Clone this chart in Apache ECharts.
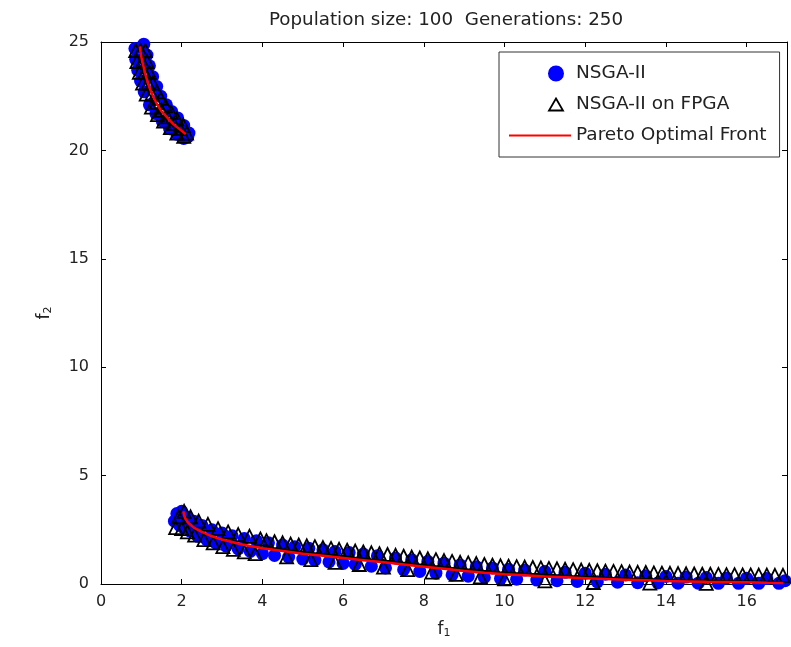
<!DOCTYPE html>
<html>
<head>
<meta charset="utf-8">
<script src="https://cdn.jsdelivr.net/npm/echarts@6/dist/echarts.min.js"></script>
<style>html,body{margin:0;padding:0;background:#fff;}#c{width:791px;height:647px;}</style>
</head>
<body>
<div id="c"></div>
<script>
const titleText = 'Population size: 100  Generations: 250';
const seriesNames = ['NSGA-II', 'NSGA-II on FPGA', 'Pareto Optimal Front'];
const xRange = [0, 17, 2];
const yRange = [0, 25, 5];

const nsga2Upper = [[0.84,24.7],[1.06,24.9],[0.86,24.2],[1.14,24.4],[0.91,23.7],[1.2,23.9],[0.98,23.2],[1.28,23.4],[1.07,22.7],[1.38,22.95],[1.2,22.1],[1.48,22.5],[1.36,21.7],[1.62,22.1],[1.52,21.35],[1.75,21.8],[1.7,21.0],[1.9,21.5],[1.88,20.75],[2.05,21.15],[2.05,20.55],[2.18,20.8],[2.15,20.62]];
const nsga2Lower = [[1.82,2.9],[1.88,3.25],[1.95,2.7],[2.0,3.35],[2.05,2.6],[2.12,3.1],[2.2,2.45],[2.3,2.9],[2.4,2.2],[2.5,2.7],[2.62,2.05],[2.75,2.5],[2.85,1.88],[3.0,2.35],[3.1,1.75],[3.25,2.22],[3.4,1.62],[3.55,2.1],[3.7,1.5],[3.85,2.0],[4.0,1.4],[4.15,1.9],[4.3,1.32],[4.5,1.8],[4.65,1.24],[4.8,1.72],[5.0,1.15],[5.15,1.65],[5.3,1.1],[5.5,1.58],[5.65,1.02],[5.8,1.5],[6.0,0.95],[6.15,1.45],[6.3,0.9],[6.5,1.38],[6.7,0.82],[6.85,1.3],[7.05,0.74],[7.3,1.2],[7.5,0.66],[7.7,1.12],[7.9,0.58],[8.1,1.04],[8.3,0.5],[8.5,0.96],[8.7,0.42],[8.9,0.88],[9.1,0.36],[9.3,0.8],[9.5,0.3],[9.7,0.74],[9.9,0.25],[10.1,0.68],[10.3,0.22],[10.5,0.64],[10.8,0.18],[11.0,0.58],[11.3,0.15],[11.5,0.54],[11.8,0.12],[12.0,0.5],[12.3,0.1],[12.5,0.45],[12.8,0.08],[13.0,0.42],[13.3,0.06],[13.5,0.38],[13.8,0.05],[14.0,0.35],[14.3,0.04],[14.5,0.32],[14.8,0.04],[15.0,0.3],[15.3,0.03],[15.5,0.28],[15.8,0.03],[16.0,0.27],[16.3,0.03],[16.5,0.25],[16.8,0.03],[16.95,0.15]];

const fpgaUpper = [[0.95,25.1],[0.86,24.6],[0.98,24.6],[1.1,24.6],[0.89,24.1],[1.02,24.1],[1.14,24.1],[0.95,23.6],[1.08,23.6],[1.2,23.6],[1.03,23.1],[1.16,23.1],[1.28,23.1],[1.12,22.6],[1.26,22.6],[1.38,22.7],[1.25,22.0],[1.37,22.2],[1.48,22.4],[1.4,21.65],[1.5,21.85],[1.6,22.05],[1.55,21.35],[1.65,21.55],[1.74,21.75],[1.72,21.05],[1.8,21.25],[1.88,21.45],[1.88,20.8],[1.96,21.0],[2.04,21.15],[2.05,20.65],[2.12,20.8]];
const fpgaLower = [[1.85,2.6],[1.92,3.1],[2.0,2.55],[2.06,3.35],[2.14,2.4],[2.22,3.1],[2.32,2.25],[2.42,2.9],[2.55,2.05],[2.65,2.75],[2.78,1.9],[2.9,2.55],[3.02,1.72],[3.15,2.4],[3.28,1.6],[3.4,2.28],[3.55,1.48],[3.68,2.2],[3.82,1.4],[3.95,2.08],[4.1,2.0],[4.3,1.95],[4.5,1.9],[4.6,1.25],[4.7,1.84],[4.9,1.8],[5.1,1.76],[5.2,1.12],[5.3,1.72],[5.5,1.68],[5.7,1.64],[5.8,1.0],[5.9,1.6],[6.1,1.56],[6.3,1.52],[6.4,0.9],[6.5,1.48],[6.7,1.44],[6.9,1.4],[7.0,0.78],[7.1,1.36],[7.3,1.32],[7.5,1.28],[7.6,0.66],[7.7,1.24],[7.9,1.2],[8.1,1.16],[8.2,0.55],[8.3,1.12],[8.5,1.08],[8.7,1.04],[8.8,0.44],[8.9,1.0],[9.1,0.97],[9.3,0.94],[9.4,0.33],[9.5,0.9],[9.7,0.87],[9.9,0.84],[10.0,0.24],[10.1,0.82],[10.3,0.8],[10.5,0.78],[10.7,0.76],[10.9,0.74],[11.0,0.14],[11.1,0.72],[11.3,0.7],[11.5,0.68],[11.7,0.66],[11.9,0.64],[12.1,0.63],[12.2,0.07],[12.3,0.61],[12.5,0.59],[12.7,0.58],[12.9,0.57],[13.1,0.55],[13.3,0.54],[13.5,0.53],[13.6,0.04],[13.7,0.51],[13.9,0.5],[14.1,0.49],[14.3,0.48],[14.5,0.47],[14.7,0.46],[14.9,0.45],[15.0,0.03],[15.1,0.45],[15.3,0.44],[15.5,0.43],[15.7,0.43],[15.9,0.42],[16.1,0.42],[16.3,0.41],[16.5,0.41],[16.7,0.4],[16.9,0.4]];

const paretoUpper = [[0.96,24.8],[1.0,24.3],[1.05,23.9],[1.1,23.5],[1.15,23.2],[1.2,22.9],[1.3,22.45],[1.4,22.1],[1.5,21.8],[1.6,21.6],[1.7,21.4],[1.8,21.2],[1.9,21.05],[2.0,20.9],[2.1,20.75]];
const paretoLower = [[2.04,3.35],[2.08,3.05],[2.15,2.85],[2.3,2.6],[2.5,2.4],[2.75,2.2],[3.0,2.05],[3.5,1.82],[4.0,1.65],[4.5,1.52],[5.0,1.4],[5.5,1.3],[6.0,1.2],[6.5,1.1],[7.0,1.0],[7.5,0.9],[8.0,0.8],[8.5,0.7],[9.0,0.6],[9.5,0.52],[10.0,0.45],[10.5,0.4],[11.0,0.35],[11.5,0.31],[12.0,0.27],[12.5,0.23],[13.0,0.2],[13.5,0.17],[14.0,0.14],[14.5,0.12],[15.0,0.1],[15.5,0.09],[16.0,0.08],[16.5,0.06],[16.9,0.05]];

const FONT = 'DejaVu Sans';
const TXT = '#222';

// legend icons drawn in a 62x16 box (corner anchors keep the box 1:1)
const ANCHORS = ' M0,0 L0.01,0 M62,16 L62.01,16';
const circleIcon = 'path://M39,8 A8,8 0 1,0 55,8 A8,8 0 1,0 39,8 Z' + ANCHORS;
const triangleIcon = 'path://M47,2 L54,14 L40,14 Z' + ANCHORS;

const chart = echarts.init(document.getElementById('c'), null, {renderer: 'canvas'});

function baseAxis(range, pos, showLabel, extra) {
  return Object.assign({
    type: 'value', position: pos, min: range[0], max: range[1], interval: range[2],
    splitLine: {show: false},
    axisLine: {show: true, onZero: false, lineStyle: {color: '#000', width: 1}},
    axisTick: {show: true, inside: true, length: 5, lineStyle: {color: '#000'}},
    axisLabel: {show: showLabel, color: TXT, fontFamily: FONT, fontSize: 16}
  }, extra || {});
}

const option = {
  animation: false,
  backgroundColor: '#fff',
  title: {text: titleText, left: 441, top: 6, textAlign: 'center',
    textStyle: {fontFamily: FONT, fontSize: 18.3, fontWeight: 'normal', color: TXT}},
  grid: {left: 101, top: 42, right: 4, bottom: 63, containLabel: false},
  legend: {
    data: [
      {name: seriesNames[0], icon: circleIcon, itemStyle: {color: '#0000ff', borderWidth: 0, opacity: 1}},
      {name: seriesNames[1], icon: triangleIcon, itemStyle: {color: '#fff', borderColor: '#000', borderWidth: 1.8, opacity: 1}},
      {name: seriesNames[2], itemStyle: {color: 'rgba(0,0,0,0)', borderWidth: 0, opacity: 0}}
    ],
    orient: 'vertical', left: 499, top: 52,
    padding: [12, 13, 12, 9], itemGap: 12, itemWidth: 62, itemHeight: 16,
    borderColor: '#333', borderWidth: 1, backgroundColor: '#fff',
    textStyle: {fontFamily: FONT, fontSize: 18.5, color: TXT}
  },
  xAxis: [
    baseAxis(xRange, 'bottom', true, {
      name: 'f{sub|1}', nameLocation: 'middle', nameGap: 36,
      nameTextStyle: {fontFamily: FONT, fontSize: 17, color: TXT,
        rich: {sub: {fontFamily: FONT, fontSize: 11, color: TXT, verticalAlign: 'bottom', padding: [8, 0, 0, 0]}}},
      axisLabel: {show: true, color: TXT, fontFamily: FONT, fontSize: 16, margin: 10, showMaxLabel: false}
    }),
    baseAxis(xRange, 'top', false)
  ],
  yAxis: [
    baseAxis(yRange, 'left', true, {
      name: 'f{sub|2}', nameLocation: 'middle', nameGap: 47, nameRotate: 90,
      nameTextStyle: {fontFamily: FONT, fontSize: 17, color: TXT,
        rich: {sub: {fontFamily: FONT, fontSize: 11, color: TXT, verticalAlign: 'bottom', padding: [8, 0, 0, 0]}}},
      axisLabel: {show: true, color: TXT, fontFamily: FONT, fontSize: 16, margin: 12}
    }),
    baseAxis(yRange, 'right', false)
  ],
  series: [
    {name: seriesNames[0], type: 'scatter', symbol: 'circle', symbolSize: 13,
      itemStyle: {color: '#0000ff', opacity: 1}, data: nsga2Upper.concat(nsga2Lower), z: 2},
    {name: seriesNames[1], type: 'scatter', symbol: 'triangle', symbolSize: 13,
      itemStyle: {color: 'rgba(255,255,255,0)', borderColor: '#000', borderWidth: 1.8, opacity: 1}, data: fpgaUpper.concat(fpgaLower), z: 3},
    {name: seriesNames[2], type: 'line', showSymbol: false, symbol: 'none', smooth: false,
      lineStyle: {color: '#ff0000', width: 2.5}, itemStyle: {color: '#ff0000'}, data: paretoUpper, z: 4},
    {name: seriesNames[2], type: 'line', showSymbol: false, symbol: 'none', smooth: false,
      lineStyle: {color: '#ff0000', width: 2.5}, itemStyle: {color: '#ff0000'}, data: paretoLower, z: 4}
  ]
};
chart.setOption(option);
</script>
</body>
</html>
